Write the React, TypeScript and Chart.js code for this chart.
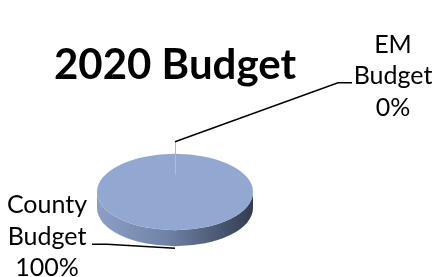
import React, { useEffect, useRef } from 'react';
import { Chart, registerables } from 'chart.js';

Chart.register(...registerables);

// ---- data ----
const categories: string[] = ['County Budget', 'EM Budget'];
const values: number[] = [100, 0];
const chartTitle = '2020 Budget';

// ---- style ----
const TOP_COLOR = '#93a8d0';
const TILT = 0.49; // vertical squash of the pie (3D look)
const DEPTH = 16; // thickness of the 3D side
const FONT = 'Lato, "Open Sans", sans-serif';
const LABEL_SIZE = 25;
const LINE_GAP = 31.5;
const TITLE_SIZE = 42;
const TITLE_BASELINE = 79;

// label placement relative to each slice's anchor point on the rim
const labelLayout = [
  // County
  { textDx: -128, firstDy: -33, leader: [[0, 2], [-68, -2], [-83, -2]], stub: null as null | number[] },
  // EM
  { textDx: 218, firstDy: -101, leader: [[0, -12], [163, -71], [177, -71]], stub: [-12, 21] },
];

const pie3d = {
  id: 'pie3d',
  beforeDatasetsDraw(chart: any) {
    const ctx = chart.ctx as CanvasRenderingContext2D;
    const arc = chart.getDatasetMeta(0).data[0];
    ctx.save();
    if (!arc) return;
    const { x, y, outerRadius: r } = arc.getProps(['x', 'y', 'outerRadius'], true);
    const ry = r * TILT;
    ctx.save();
    const g = ctx.createLinearGradient(x - r, 0, x + r, 0);
    g.addColorStop(0, '#8d9fc4');
    g.addColorStop(0.45, '#6f82a7');
    g.addColorStop(1, '#333c50');
    ctx.beginPath();
    ctx.moveTo(x - r, y);
    ctx.lineTo(x - r, y + DEPTH);
    ctx.ellipse(x, y + DEPTH, r, ry, 0, Math.PI, 0, true);
    ctx.lineTo(x + r, y);
    ctx.ellipse(x, y, r, ry, 0, 0, Math.PI, false);
    ctx.closePath();
    ctx.fillStyle = g;
    ctx.fill();
    ctx.restore();
    ctx.translate(x, y);
    ctx.scale(1, TILT);
    ctx.translate(-x, -y);
  },
  afterDatasetsDraw(chart: any) {
    chart.ctx.restore();
  },
};

const titleAndLabels = {
  id: 'titleAndLabels',
  afterDraw(chart: any) {
    const ctx = chart.ctx as CanvasRenderingContext2D;
    const meta = chart.getDatasetMeta(0);
    const total = values.reduce((a, b) => a + b, 0);
    // title centred over the pie
    const first = meta.data[0];
    if (first) {
      ctx.save();
      ctx.fillStyle = '#000';
      ctx.font = `bold ${TITLE_SIZE}px ${FONT}`;
      ctx.textAlign = 'center';
      ctx.textBaseline = 'alphabetic';
      ctx.fillText(chartTitle, first.x, TITLE_BASELINE);
      ctx.restore();
    }
    meta.data.forEach((arc: any, i: number) => {
      const { x, y, startAngle, endAngle, outerRadius: r } = arc.getProps(
        ['x', 'y', 'startAngle', 'endAngle', 'outerRadius'],
        true
      );
      const mid = (startAngle + endAngle) / 2;
      const ax = x + r * Math.cos(mid);
      let ay = y + r * TILT * Math.sin(mid);
      if (Math.sin(mid) > 0.01) ay += DEPTH;
      const L = labelLayout[i];
      ctx.save();
      if (L.stub) {
        ctx.strokeStyle = '#a9bde2';
        ctx.lineWidth = 1;
        ctx.beginPath();
        ctx.moveTo(ax + 0.5, ay + L.stub[0]);
        ctx.lineTo(ax + 0.5, ay + L.stub[1]);
        ctx.stroke();
      }
      ctx.strokeStyle = '#000';
      ctx.lineWidth = 1.5;
      ctx.beginPath();
      L.leader.forEach((p, k) => {
        if (k === 0) ctx.moveTo(ax + p[0], ay + p[1]);
        else ctx.lineTo(ax + p[0], ay + p[1]);
      });
      ctx.stroke();
      const pct = Math.round((values[i] / total) * 100) + '%';
      const lines = [...categories[i].split(' '), pct];
      ctx.fillStyle = '#000';
      ctx.font = `${LABEL_SIZE}px ${FONT}`;
      ctx.textAlign = 'center';
      ctx.textBaseline = 'alphabetic';
      lines.forEach((t, k) => {
        ctx.fillText(t, ax + L.textDx, ay + L.firstDy + k * LINE_GAP);
      });
      ctx.restore();
    });
  },
};

export default function App() {
  const ref = useRef<HTMLCanvasElement | null>(null);
  useEffect(() => {
    if (!ref.current) return;
    const chart = new Chart(ref.current, {
      type: 'pie',
      data: {
        labels: categories,
        datasets: [
          {
            data: values,
            backgroundColor: [TOP_COLOR, TOP_COLOR],
            borderWidth: 0,
          },
        ],
      },
      options: {
        animation: false,
        responsive: false,
        layout: { padding: { left: 97, right: 182, top: 114, bottom: 7 } },
        plugins: {
          legend: { display: false },
          tooltip: { enabled: false },
          title: { display: false },
        },
      },
      plugins: [pie3d, titleAndLabels],
    });
    return () => chart.destroy();
  }, []);
  return (
    <div style={{ position: 'fixed', left: 0, top: 0, width: 435, height: 277, background: '#fff' }}>
      <canvas ref={ref} width={435} height={277} style={{ display: 'block' }} />
    </div>
  );
}
